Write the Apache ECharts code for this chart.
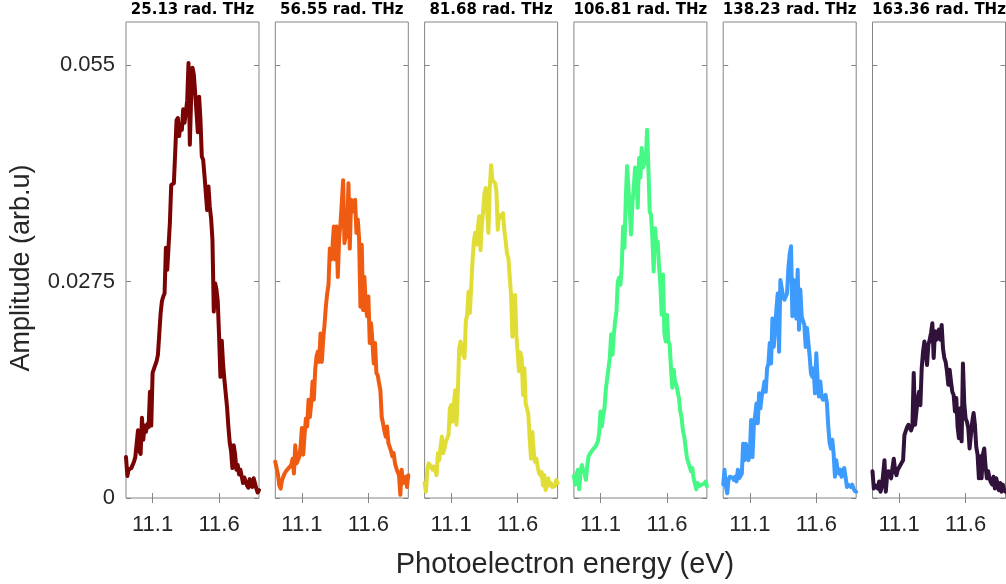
<!DOCTYPE html>
<html>
<head>
<meta charset="utf-8">
<title>Photoelectron spectra</title>
<script src="https://cdn.jsdelivr.net/npm/echarts@6.0.0/dist/echarts.min.js"></script>
<style>
  html, body { margin: 0; padding: 0; background: #ffffff; }
  #chart { width: 1006px; height: 584px; }
</style>
</head>
<body>
<div id="chart"></div>
<script>
// Angular frequencies of the six spectra (rad. THz)
const frequencies = [25.13, 56.55, 81.68, 106.81, 138.23, 163.36];

// Photoelectron energy grid (eV)
const energy = [
  10.90, 10.91, 10.92, 10.93, 10.94, 10.95, 10.96, 10.97, 10.98, 10.99,
  11.00, 11.01, 11.02, 11.03, 11.04, 11.05, 11.06, 11.07, 11.08, 11.09,
  11.10, 11.11, 11.12, 11.13, 11.14, 11.15, 11.16, 11.17, 11.18, 11.19,
  11.20, 11.21, 11.22, 11.23, 11.24, 11.25, 11.26, 11.27, 11.28, 11.29,
  11.30, 11.31, 11.32, 11.33, 11.34, 11.35, 11.36, 11.37, 11.38, 11.39,
  11.40, 11.41, 11.42, 11.43, 11.44, 11.45, 11.46, 11.47, 11.48, 11.49,
  11.50, 11.51, 11.52, 11.53, 11.54, 11.55, 11.56, 11.57, 11.58, 11.59,
  11.60, 11.61, 11.62, 11.63, 11.64, 11.65, 11.66, 11.67, 11.68, 11.69,
  11.70, 11.71, 11.72, 11.73, 11.74, 11.75, 11.76, 11.77, 11.78, 11.79,
  11.80, 11.81, 11.82, 11.83, 11.84, 11.85, 11.86, 11.87, 11.88, 11.89,
  11.90
];

// Amplitudes in units of 1e-3 arb.u, one list per frequency
const amp25 = [
  5.2, 2.8, 3.6, 3.4, 3.8, 3.6, 4.6, 5.2, 5.4, 8.6,
  6.0, 5.6, 10.2, 7.4, 9.2, 8.4, 9.4, 9.0, 13.5, 9.2,
  15.9, 16.4, 16.6, 17.4, 18.2, 20.8, 23.4, 25.0, 25.6, 26.0,
  31.8, 29.0, 32.0, 35.0, 39.8, 39.6, 40.0, 44.0, 48.0, 48.3,
  46.0, 47.5, 46.8, 49.4, 47.7, 49.0, 50.5, 55.3, 44.9, 51.0,
  54.7, 53.8, 51.5, 49.0, 46.5, 51.0, 48.0, 43.4, 43.0, 41.0,
  38.8, 36.6, 39.6, 37.0, 35.5, 32.8, 23.7, 27.3, 26.5, 25.0,
  20.5, 15.4, 20.0, 17.0, 15.0, 15.0, 11.5, 9.0, 7.0, 6.0,
  3.8, 6.7, 5.6, 3.6, 4.2, 3.0, 3.6, 3.4, 1.9, 2.6,
  2.7, 1.6, 1.3, 2.4, 1.8, 1.4, 2.5, 2.4, 1.2, 0.7, 1.0
];
const amp56 = [
  4.6, 4.4, 3.0, 1.6, 1.2, 2.2, 2.7, 3.1, 3.4, 3.6,
  3.8, 4.0, 4.2, 5.0, 3.1, 6.7, 4.4, 4.6, 5.2, 6.5,
  8.9, 5.5, 8.0, 10.1, 9.1, 12.5, 10.3, 12.0, 14.8, 12.5,
  16.3, 18.0, 18.6, 17.3, 20.9, 17.3, 20.1, 22.0, 24.3, 26.0,
  27.1, 31.7, 30.3, 32.0, 34.5, 30.3, 34.5, 28.1, 33.0, 34.9,
  37.5, 40.4, 32.4, 33.5, 33.2, 40.0, 31.7, 37.9, 36.4, 36.8,
  37.9, 33.7, 35.4, 33.0, 24.3, 32.2, 23.9, 28.1, 24.5, 23.1,
  25.6, 19.7, 22.2, 20.0, 17.1, 19.7, 15.9, 15.6, 14.6, 13.7,
  10.3, 9.5, 8.5, 7.8, 9.1, 7.0, 6.5, 6.0, 5.3, 5.7,
  4.4, 3.8, 3.3, 2.9, 0.4, 3.6, 1.9, 2.4, 2.7, 1.4, 2.9
];
const amp81 = [
  1.9, 0.8, 3.5, 4.4, 4.3, 4.0, 3.6, 4.0, 3.5, 2.9,
  5.7, 4.8, 6.5, 7.8, 5.7, 6.3, 7.2, 7.6, 8.0, 11.4,
  11.8, 9.7, 12.0, 13.7, 9.3, 13.5, 19.0, 19.9, 20.1, 18.2,
  17.8, 22.5, 23.3, 26.2, 23.5, 26.7, 30.0, 32.6, 33.7, 32.2,
  34.3, 35.8, 31.5, 34.7, 36.5, 38.7, 39.4, 39.2, 33.7, 39.4,
  42.3, 40.4, 40.2, 40.0, 39.0, 34.1, 36.0, 35.6, 35.8, 36.2,
  33.9, 32.6, 31.0, 30.5, 30.3, 25.8, 20.5, 24.0, 25.8, 20.7,
  20.9, 16.1, 18.5, 17.8, 13.1, 16.5, 12.0, 11.4, 10.6, 7.6,
  5.0, 8.4, 6.0, 4.6, 5.0, 4.0, 3.2, 2.9, 3.3, 1.6,
  2.9, 1.0, 0.8, 2.5, 1.6, 1.9, 1.4, 1.2, 1.5, 2.3, 1.9
];
const amp106 = [
  2.8, 1.7, 3.0, 3.6, 1.1, 3.4, 4.2, 3.5, 3.2, 2.3,
  4.0, 5.3, 5.6, 5.8, 6.1, 6.3, 6.5, 6.8, 7.2, 8.3,
  11.0, 9.1, 10.5, 11.4, 13.8, 14.0, 16.5, 17.8, 20.8, 18.2,
  20.8, 22.5, 23.7, 27.5, 28.0, 27.1, 29.5, 34.5, 31.8, 38.0,
  42.2, 42.0, 36.4, 33.5, 37.5, 39.4, 42.0, 40.9, 36.9, 43.2,
  40.7, 44.5, 42.0, 43.7, 42.5, 46.8, 42.0, 36.4, 36.0, 33.0,
  28.8, 34.3, 32.2, 32.6, 29.5, 27.1, 23.3, 28.4, 21.0, 19.9,
  23.3, 19.9, 19.5, 16.5, 14.0, 16.3, 14.8, 14.4, 13.5, 12.7,
  11.0, 10.2, 8.5, 7.8, 7.6, 5.1, 5.1, 4.0, 3.4, 3.8,
  2.5, 2.7, 1.1, 1.9, 1.5, 1.3, 1.7, 1.5, 1.8, 2.1, 1.5
];
const amp138 = [
  1.7, 3.6, 1.5, 0.6, 2.3, 2.7, 2.9, 2.6, 2.3, 2.7,
  2.1, 3.6, 2.5, 2.8, 3.1, 6.9, 4.8, 6.9, 6.0, 4.8,
  5.7, 9.9, 5.2, 9.1, 10.5, 12.0, 9.5, 13.3, 11.4, 13.0,
  13.7, 14.8, 13.5, 16.5, 17.1, 19.7, 17.1, 22.8, 19.2, 21.4,
  24.0, 26.0, 18.6, 27.7, 26.7, 25.6, 25.2, 25.2, 26.0, 29.2,
  31.0, 32.0, 23.1, 27.7, 25.0, 22.8, 29.0, 21.4, 26.5, 23.1,
  22.5, 22.0, 19.2, 21.6, 21.4, 18.0, 15.8, 15.4, 16.5, 13.3,
  18.4, 15.0, 12.9, 14.8, 12.9, 12.5, 12.8, 13.1, 12.0, 9.1,
  7.0, 6.3, 7.4, 5.7, 2.7, 4.8, 3.6, 3.1, 3.6, 2.7,
  3.5, 3.8, 2.7, 1.4, 1.7, 1.5, 1.4, 1.7, 1.2, 0.9, 0.8
];
const amp163 = [
  3.4, 1.2, 1.6, 1.4, 1.2, 2.1, 0.8, 1.4, 3.0, 4.8,
  0.8, 2.9, 3.4, 3.6, 2.5, 3.8, 5.0, 3.5, 2.9, 3.6,
  3.6, 4.2, 4.5, 4.8, 8.0, 8.2, 9.0, 9.3, 9.5, 8.6,
  9.1, 15.9, 9.3, 11.0, 12.5, 13.5, 11.8, 16.5, 18.6, 19.9,
  18.5, 16.9, 19.5, 20.1, 21.0, 22.2, 17.8, 21.2, 20.1, 21.0,
  21.4, 20.1, 22.0, 19.0, 17.8, 17.3, 16.1, 14.4, 16.3, 14.8,
  13.5, 13.1, 11.0, 12.7, 9.0, 7.6, 11.4, 7.2, 17.1, 12.0,
  10.1, 9.7, 8.9, 6.3, 8.0, 9.7, 10.8, 9.3, 6.5, 5.5,
  2.5, 5.3, 2.5, 5.5, 6.3, 4.0, 2.5, 3.4, 2.5, 2.0,
  1.7, 2.7, 1.2, 2.5, 1.8, 1.0, 1.9, 0.8, 1.7, 1.0, 0.8
];
const AMP_UNIT = 1e-3;

// Axis ticks
const xTicks = [11.1, 11.6];
const yTicks = [0, 0.0275, 0.055];

// Line colours (turbo colormap, sampled from red down to dark purple)
const colors = ['#7a0403', '#f05b12', '#e1dd37', '#46f884', '#3e9bfe', '#30123b'];

const spectra = [amp25, amp56, amp81, amp106, amp138, amp163];

// Panel geometry (pixels)
const PANEL_LEFT = 126;
const PANEL_STEP = 149.3;
const PANEL_W = 133;
const PANEL_TOP = 22;
const PANEL_H = 476;

const FRAME = '#858585';
const TEXT = '#262626';

const grids = [], xAxes = [], yAxes = [], series = [], graphics = [];

spectra.forEach((amps, k) => {
  const left = PANEL_LEFT + k * PANEL_STEP;
  grids.push({
    left: left, top: PANEL_TOP, width: PANEL_W, height: PANEL_H,
    show: true, borderColor: FRAME, borderWidth: 1,
    backgroundColor: 'transparent'
  });

  const xBase = {
    gridIndex: k, type: 'value', min: 10.9, max: 11.9,
    axisLine: { show: false },
    splitLine: { show: false },
    axisTick: { show: true, inside: true, length: 5, customValues: xTicks,
                lineStyle: { color: FRAME, width: 1 } }
  };
  xAxes.push(Object.assign({}, xBase, {
    position: 'bottom',
    axisLabel: { show: true, customValues: xTicks, formatter: v => String(v),
                 fontFamily: 'Liberation Sans', fontSize: 22, color: TEXT, margin: 16 }
  }));
  xAxes.push(Object.assign({}, xBase, {
    position: 'top',
    axisLabel: { show: false }
  }));

  const yBase = {
    gridIndex: k, type: 'value', min: 0, max: 0.0605,
    axisLine: { show: false },
    splitLine: { show: false },
    axisTick: { show: true, inside: true, length: 5, customValues: yTicks,
                lineStyle: { color: FRAME, width: 1 } }
  };
  yAxes.push(Object.assign({}, yBase, {
    position: 'left',
    axisLabel: { show: k === 0, customValues: yTicks, formatter: v => String(v),
                 fontFamily: 'Liberation Sans', fontSize: 22, color: TEXT, margin: 11 }
  }));
  yAxes.push(Object.assign({}, yBase, {
    position: 'right',
    axisLabel: { show: false }
  }));

  series.push({
    type: 'line',
    xAxisIndex: 2 * k,
    yAxisIndex: 2 * k,
    data: energy.map((e, i) => [e, amps[i] * AMP_UNIT]),
    symbol: 'none',
    showSymbol: false,
    lineStyle: { color: colors[k], width: 4, join: 'round', cap: 'round' },
    clip: true,
    silent: true
  });

  // Panel title
  graphics.push({
    type: 'text',
    x: left + PANEL_W / 2,
    y: 10.5,
    style: {
      text: frequencies[k].toFixed(2) + ' rad. THz',
      fontFamily: 'DejaVu Sans',
      fontWeight: 'bold',
      fontSize: 15,
      fill: '#000000',
      align: 'center',
      verticalAlign: 'middle'
    }
  });
});

// Axis titles
graphics.push({
  type: 'text',
  x: 565, y: 565,
  style: {
    text: 'Photoelectron energy (eV)',
    fontFamily: 'Liberation Sans', fontSize: 29, fill: TEXT,
    align: 'center', verticalAlign: 'middle'
  }
});
graphics.push({
  type: 'text',
  x: 22, y: 268,
  rotation: Math.PI / 2,
  style: {
    text: 'Amplitude (arb.u)',
    fontFamily: 'Liberation Sans', fontSize: 27, fill: TEXT,
    align: 'center', verticalAlign: 'middle'
  }
});

const chart = echarts.init(document.getElementById('chart'), null, { renderer: 'canvas' });
chart.setOption({
  animation: false,
  backgroundColor: '#ffffff',
  grid: grids,
  xAxis: xAxes,
  yAxis: yAxes,
  series: series,
  graphic: graphics
});
</script>
</body>
</html>
